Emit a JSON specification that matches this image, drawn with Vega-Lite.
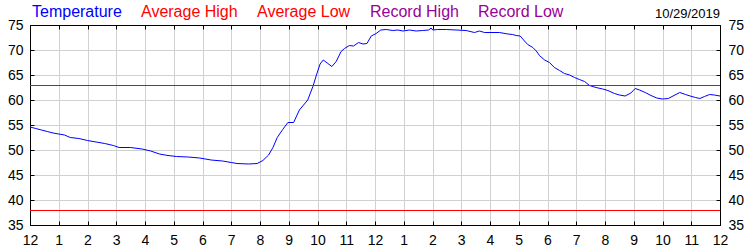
{
  "$schema": "https://vega.github.io/schema/vega-lite/v6.json",
  "width": 690,
  "height": 200,
  "autosize": "none",
  "padding": {"left": 30, "top": 25, "right": 30, "bottom": 25},
  "background": "white",
  "config": {
    "view": {"stroke": "black", "strokeWidth": 1},
    "font": "Liberation Sans",
    "axis": {
      "gridColor": "#D0D0D0", "gridOpacity": 1, "gridWidth": 1,
      "domainColor": "black", "tickColor": "black", "labelColor": "black",
      "labelFontSize": 14, "labelFont": "Liberation Sans", "tickSize": -4,
      "title": null, "labelFlush": false, "labelOverlap": false
    }
  },
  "title": {"text": "10/29/2019", "anchor": "end", "frame": "group", "fontSize": 13, "fontWeight": "normal", "font": "Liberation Sans", "color": "black", "offset": 8, "baseline": "alphabetic", "dy": 35},
  "datasets": {
    "temp": [
      {"series":"Temperature","h":0.0,"t":54.6},{"series":"Temperature","h":0.2,"t":54.3},{"series":"Temperature","h":0.4,"t":54.0},{"series":"Temperature","h":0.6,"t":53.7},{"series":"Temperature","h":0.8,"t":53.4},{"series":"Temperature","h":1.0,"t":53.2},{"series":"Temperature","h":1.2,"t":53.0},{"series":"Temperature","h":1.4,"t":52.5},{"series":"Temperature","h":1.7,"t":52.3},{"series":"Temperature","h":2.0,"t":51.9},{"series":"Temperature","h":2.3,"t":51.6},{"series":"Temperature","h":2.6,"t":51.3},{"series":"Temperature","h":2.9,"t":50.9},{"series":"Temperature","h":3.1,"t":50.5},{"series":"Temperature","h":3.5,"t":50.5},{"series":"Temperature","h":3.9,"t":50.2},{"series":"Temperature","h":4.2,"t":49.8},{"series":"Temperature","h":4.5,"t":49.2},{"series":"Temperature","h":4.8,"t":48.9},{"series":"Temperature","h":5.1,"t":48.7},{"series":"Temperature","h":5.5,"t":48.6},{"series":"Temperature","h":5.9,"t":48.4},{"series":"Temperature","h":6.3,"t":48.0},{"series":"Temperature","h":6.7,"t":47.8},{"series":"Temperature","h":7.0,"t":47.5},{"series":"Temperature","h":7.2,"t":47.3},{"series":"Temperature","h":7.6,"t":47.2},{"series":"Temperature","h":7.9,"t":47.3},{"series":"Temperature","h":8.1,"t":47.9},{"series":"Temperature","h":8.3,"t":49.0},{"series":"Temperature","h":8.45,"t":50.5},{"series":"Temperature","h":8.6,"t":52.5},{"series":"Temperature","h":8.79,"t":54.1},{"series":"Temperature","h":8.97,"t":55.5},{"series":"Temperature","h":9.17,"t":55.5},{"series":"Temperature","h":9.37,"t":58.0},{"series":"Temperature","h":9.66,"t":60.0},{"series":"Temperature","h":9.84,"t":62.7},{"series":"Temperature","h":9.98,"t":65.3},{"series":"Temperature","h":10.09,"t":67.2},{"series":"Temperature","h":10.2,"t":68.0},{"series":"Temperature","h":10.36,"t":67.3},{"series":"Temperature","h":10.5,"t":66.7},{"series":"Temperature","h":10.65,"t":67.7},{"series":"Temperature","h":10.82,"t":69.7},{"series":"Temperature","h":10.94,"t":70.3},{"series":"Temperature","h":11.11,"t":70.9},{"series":"Temperature","h":11.25,"t":70.8},{"series":"Temperature","h":11.43,"t":71.5},{"series":"Temperature","h":11.58,"t":71.2},{"series":"Temperature","h":11.72,"t":71.3},{"series":"Temperature","h":11.87,"t":72.8},{"series":"Temperature","h":12.04,"t":73.3},{"series":"Temperature","h":12.2,"t":74.0},{"series":"Temperature","h":12.39,"t":74.1},{"series":"Temperature","h":12.62,"t":73.9},{"series":"Temperature","h":12.8,"t":74.0},{"series":"Temperature","h":12.97,"t":73.8},{"series":"Temperature","h":13.2,"t":74.0},{"series":"Temperature","h":13.43,"t":73.8},{"series":"Temperature","h":13.66,"t":73.9},{"series":"Temperature","h":13.87,"t":74.0},{"series":"Temperature","h":13.95,"t":74.4},{"series":"Temperature","h":14.01,"t":74.0},{"series":"Temperature","h":14.18,"t":74.1},{"series":"Temperature","h":14.48,"t":74.1},{"series":"Temperature","h":14.82,"t":74.0},{"series":"Temperature","h":15.17,"t":73.9},{"series":"Temperature","h":15.46,"t":73.5},{"series":"Temperature","h":15.63,"t":73.8},{"series":"Temperature","h":15.81,"t":73.5},{"series":"Temperature","h":16.33,"t":73.5},{"series":"Temperature","h":16.62,"t":73.2},{"series":"Temperature","h":16.79,"t":73.1},{"series":"Temperature","h":16.91,"t":72.9},{"series":"Temperature","h":17.05,"t":72.8},{"series":"Temperature","h":17.17,"t":72.0},{"series":"Temperature","h":17.31,"t":71.1},{"series":"Temperature","h":17.49,"t":70.5},{"series":"Temperature","h":17.61,"t":69.8},{"series":"Temperature","h":17.72,"t":68.9},{"series":"Temperature","h":17.9,"t":68.0},{"series":"Temperature","h":18.07,"t":67.5},{"series":"Temperature","h":18.24,"t":66.5},{"series":"Temperature","h":18.42,"t":65.9},{"series":"Temperature","h":18.59,"t":65.3},{"series":"Temperature","h":18.77,"t":65.0},{"series":"Temperature","h":18.94,"t":64.5},{"series":"Temperature","h":19.11,"t":64.1},{"series":"Temperature","h":19.29,"t":63.7},{"series":"Temperature","h":19.46,"t":62.9},{"series":"Temperature","h":19.69,"t":62.5},{"series":"Temperature","h":19.92,"t":62.2},{"series":"Temperature","h":20.1,"t":61.9},{"series":"Temperature","h":20.33,"t":61.3},{"series":"Temperature","h":20.5,"t":61.0},{"series":"Temperature","h":20.7,"t":60.8},{"series":"Temperature","h":20.9,"t":61.4},{"series":"Temperature","h":21.05,"t":62.3},{"series":"Temperature","h":21.2,"t":62.0},{"series":"Temperature","h":21.4,"t":61.5},{"series":"Temperature","h":21.6,"t":60.9},{"series":"Temperature","h":21.8,"t":60.4},{"series":"Temperature","h":22.0,"t":60.2},{"series":"Temperature","h":22.2,"t":60.3},{"series":"Temperature","h":22.4,"t":60.9},{"series":"Temperature","h":22.6,"t":61.5},{"series":"Temperature","h":22.8,"t":61.1},{"series":"Temperature","h":22.96,"t":60.8},{"series":"Temperature","h":23.15,"t":60.5},{"series":"Temperature","h":23.3,"t":60.3},{"series":"Temperature","h":23.46,"t":60.7},{"series":"Temperature","h":23.64,"t":61.1},{"series":"Temperature","h":23.8,"t":61.0},{"series":"Temperature","h":24.0,"t":60.8}
    ],
    "avg": [
      {"series": "Average High", "v": 63},
      {"series": "Average Low", "v": 38}
    ]
  },
  "layer": [
    {
      "data": {"name": "temp"},
      "mark": {"type": "line", "strokeWidth": 1},
      "encoding": {
        "x": {"field": "h", "type": "quantitative", "scale": {"domain": [0, 24], "nice": false},
          "axis": {"orient": "bottom", "values": [0,1,2,3,4,5,6,7,8,9,10,11,12,13,14,15,16,17,18,19,20,21,22,23,24],
            "labelExpr": "datum.value % 12 == 0 ? '12' : '' + (datum.value % 12)", "labelPadding": 12, "grid": true}},
        "y": {"field": "t", "type": "quantitative", "scale": {"domain": [35, 75], "nice": false, "zero": false},
          "axis": {"orient": "left", "values": [35,40,45,50,55,60,65,70,75], "labelPadding": 11, "grid": true}},
        "color": {"field": "series", "type": "nominal",
          "scale": {"domain": ["Temperature", "Average High", "Average Low", "Record High", "Record Low"],
                    "range": ["#0000FF", "#FF0000", "#FF0000", "#990099", "#990099"]},
          "legend": {"orient": "none", "legendX": -14, "legendY": -21, "direction": "horizontal", "title": null,
            "symbolSize": 0, "symbolStrokeWidth": 0, "symbolOpacity": 0, "labelOffset": 0, "columnPadding": 3,
            "labelFontSize": 16, "labelFont": "Liberation Sans", "padding": 0, "labelLimit": 0,
            "labelColor": {"expr": "datum.value == 'Temperature' ? '#0000FF' : ((datum.value == 'Average High' || datum.value == 'Average Low') ? '#FF0000' : '#990099')"}}}
      }
    },
    {
      "data": {"name": "avg"},
      "mark": {"type": "rule", "strokeWidth": 1, "yOffset": 0.5},
      "encoding": {
        "y": {"field": "v", "type": "quantitative", "axis": null},
        "color": {"field": "series", "type": "nominal"}
      }
    },
    {
      "data": {"name": "temp"},
      "mark": {"type": "line", "strokeOpacity": 0},
      "encoding": {
        "x": {"field": "h", "type": "quantitative",
          "axis": {"orient": "top", "values": [0,1,2,3,4,5,6,7,8,9,10,11,12,13,14,15,16,17,18,19,20,21,22,23,24], "labels": false, "grid": false}},
        "y": {"field": "t", "type": "quantitative",
          "axis": {"orient": "right", "values": [35,40,45,50,55,60,65,70,75], "labelPadding": 12, "grid": false}}
      }
    }
  ],
  "resolve": {"axis": {"x": "independent", "y": "independent"}}
}
